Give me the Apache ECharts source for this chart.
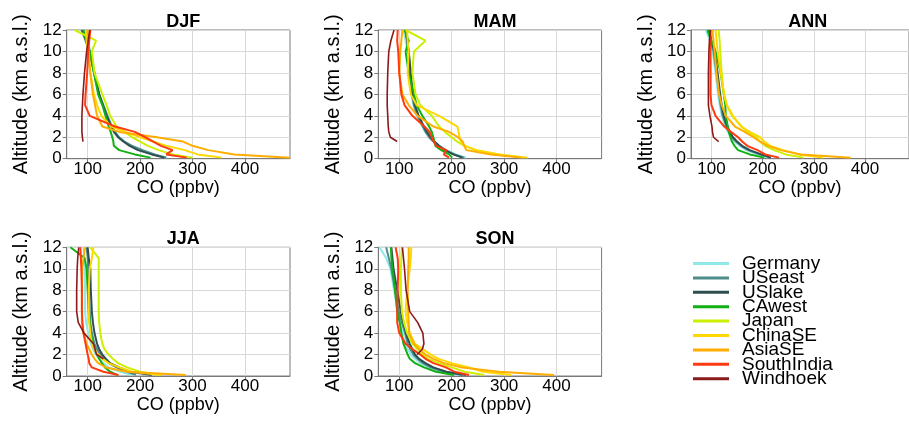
<!DOCTYPE html>
<html>
<head>
<meta charset="utf-8">
<script src="https://cdn.jsdelivr.net/npm/echarts@6/dist/echarts.min.js"></script>
<style>
html,body{margin:0;padding:0;background:#fff;}
#chart{width:909px;height:422px;}
</style>
</head>
<body>
<div id="chart"></div>
<script>
// ---------- data ----------
const stations = ['Germany','USeast','USlake','CAwest','Japan','ChinaSE','AsiaSE','SouthIndia','Windhoek'];
const panels = ['DJF','MAM','ANN','JJA','SON'];
const altLevels = [0.1,0.4,0.8,1.2,1.6,2,2.5,3,4,5,6,8,10,11,12]; // km a.s.l.
const xTicks = [100,200,300,400];

// DJF CO (ppbv) at altLevels
const djfGermany    = [251,225,200,183,170,160,152,146,137,128,121,112,105,100,92];
const djfUSeast     = [250,228,205,185,170,160,152,146,138,130,122,112,103,96,88];
const djfUSlake     = [246,222,196,180,168,158,150,145,136,129,122,113,104,97,90];
const djfCAwest     = [220,190,160,150,149,147,144,140,134,128,120,112,104,97,92];
const djfJapan      = [300,262,235,215,200,185,170,155,143,136,128,113,108,116,75];
const djfChinaSE    = [356,310,285,250,225,200,172,145,126,118,112,105,100,98,97];
const djfAsiaSE     = [486,380,330,300,282,232,160,128,118,114,110,105,102,100,100];
const djfSouthIndia = [289,250,262,240,225,210,190,152,104,95,96,99,101,103,105];
const djfWindhoek   = [null,null,null,null,91,90,89,89,89,90,91,94,98,101,104];

// MAM
const mamGermany    = [227,208,190,176,165,157,150,144,133,127,123,120,117,112,108];
const mamUSeast     = [224,205,188,175,165,157,150,145,135,128,124,121,118,115,112];
const mamUSlake     = [220,203,187,176,167,160,153,147,137,130,126,122,118,115,112];
const mamCAwest     = [201,195,180,169,167,165,162,157,144,133,128,118,112,118,110];
const mamJapan      = [338,290,245,225,210,200,187,176,162,140,131,125,128,150,112];
const mamChinaSE    = [345,290,248,225,218,215,213,211,176,133,122,116,118,116,115];
const mamAsiaSE     = [332,275,228,224,221,212,195,165,135,118,106,100,102,104,106];
const mamSouthIndia = [195,185,190,170,166,162,158,148,125,110,104,100,98,96,97];
const mamWindhoek   = [null,null,null,null,96,83,80,79,78,77,77,78,80,84,90];

// ANN
const annGermany    = [210,190,168,155,145,138,132,127,120,116,113,108,102,97,89];
const annUSeast     = [216,195,172,158,148,140,134,129,122,118,115,110,104,99,93];
const annUSlake     = [216,197,175,160,150,142,136,131,124,120,117,112,106,100,95];
const annCAwest     = [203,175,152,145,140,137,134,132,128,127,124,118,108,100,92];
const annJapan      = [280,245,222,205,195,187,170,159,140,130,124,120,117,116,114];
const annChinaSE    = [318,270,240,215,203,195,175,158,142,130,125,118,112,110,108];
const annAsiaSE     = [372,275,235,210,195,182,165,146,128,120,115,110,106,104,102];
const annSouthIndia = [232,205,190,170,160,152,138,125,108,100,98,98,98,98,98];
const annWindhoek   = [null,null,null,null,114,104,102,101,97,94,94,94,95,96,98];

// JJA
const jjaGermany    = [185,162,140,130,122,116,110,106,101,97,95,95,95,94,92];
const jjaUSeast     = [192,175,155,140,131,124,118,113,108,105,104,102,101,100,98];
const jjaUSlake     = [222,181,160,143,135,128,122,118,113,110,108,106,105,102,100];
const jjaCAwest     = [156,143,133,127,122,118,113,110,106,104,102,100,98,94,67];
const jjaJapan      = [238,200,175,158,148,140,132,128,124,122,121,121,121,121,105];
const jjaChinaSE    = [241,185,160,140,128,120,112,108,105,103,102,102,104,108,111];
const jjaAsiaSE     = [287,175,135,120,113,108,103,98,92,89,89,89,90,92,95];
const jjaSouthIndia = [159,130,108,103,102,100,98,96,92,90,89,89,88,87,86];
const jjaWindhoek   = [null,null,null,null,130,117,114,111,93,82,79,79,80,81,83];

// SON
const sonGermany    = [214,180,155,140,130,122,116,111,106,101,97,90,83,75,62];
const sonUSeast     = [220,185,160,145,135,127,121,116,111,105,99,92,85,80,75];
const sonUSlake     = [227,190,165,150,138,130,125,120,113,108,103,96,89,87,85];
const sonCAwest     = [204,170,147,130,120,116,112,108,104,101,96,92,87,85,84];
const sonJapan      = [262,225,200,175,155,145,135,125,115,109,105,103,103,104,105];
const sonChinaSE    = [313,260,233,200,175,160,145,130,120,115,112,115,120,122,123];
const sonAsiaSE     = [395,290,220,185,165,150,138,128,119,118,117,116,117,118,118];
const sonSouthIndia = [233,205,189,165,150,140,125,112,100,96,96,97,98,97,93];
const sonWindhoek   = [null,null,null,null,null,134,144,147,145,135,120,113,110,108,106];

const panelData = {
  DJF: [djfGermany,djfUSeast,djfUSlake,djfCAwest,djfJapan,djfChinaSE,djfAsiaSE,djfSouthIndia,djfWindhoek],
  MAM: [mamGermany,mamUSeast,mamUSlake,mamCAwest,mamJapan,mamChinaSE,mamAsiaSE,mamSouthIndia,mamWindhoek],
  ANN: [annGermany,annUSeast,annUSlake,annCAwest,annJapan,annChinaSE,annAsiaSE,annSouthIndia,annWindhoek],
  JJA: [jjaGermany,jjaUSeast,jjaUSlake,jjaCAwest,jjaJapan,jjaChinaSE,jjaAsiaSE,jjaSouthIndia,jjaWindhoek],
  SON: [sonGermany,sonUSeast,sonUSlake,sonCAwest,sonJapan,sonChinaSE,sonAsiaSE,sonSouthIndia,sonWindhoek]
};

// ---------- style / layout ----------
const colors = ['#8ee8e8','#4f8c8c','#2f4f4f','#12b012','#ccf000','#ffd800','#ffad00','#ff3a10','#8b1a1a'];
const widths = [2,2,2,2,2,2,2,2,1.6];
const FONT = '"Liberation Sans", Arial, sans-serif';
const gridPos = {
  DJF: {left: 66.7, top: 30},
  MAM: {left: 378.3, top: 30},
  ANN: {left: 691, top: 30},
  JJA: {left: 66.7, top: 247.3},
  SON: {left: 378.3, top: 247.3}
};
const GW = 223.3, GH = 128.7;
const frame = '#7a7a7a';

const grids = [], xAxes = [], yAxes = [], titles = [], series = [];
panels.forEach((p, i) => {
  const g = gridPos[p];
  grids.push({left: g.left, top: g.top, width: GW, height: GH, show: true, borderColor: frame, borderWidth: 1, backgroundColor: 'transparent'});
  titles.push({text: p, left: g.left + GW / 2, top: g.top - 22, textAlign: 'center',
    textStyle: {fontFamily: FONT, fontSize: 18, fontWeight: 'bold', color: '#000'}});
  xAxes.push({
    type: 'value', gridIndex: i, min: 60, max: 486,
    name: 'CO (ppbv)', nameLocation: 'middle', nameGap: 14,
    nameTextStyle: {fontFamily: FONT, fontSize: 18, color: '#000'},
    axisLine: {show: true, lineStyle: {color: frame, width: 1}},
    axisTick: {show: true, customValues: xTicks, length: 4, lineStyle: {color: frame}},
    axisLabel: {customValues: xTicks, fontFamily: FONT, fontSize: 17, color: '#000', margin: 2},
    splitLine: {show: true, lineStyle: {color: '#d9d9d9', width: 1}}
  });
  yAxes.push({
    type: 'value', gridIndex: i, min: 0, max: 12, interval: 2,
    name: 'Altitude (km a.s.l.)', nameLocation: 'middle', nameGap: 35,
    nameTextStyle: {fontFamily: FONT, fontSize: 20, color: '#000'},
    axisLine: {show: true, lineStyle: {color: frame, width: 1}},
    axisTick: {show: true, length: 4, lineStyle: {color: frame}},
    axisLabel: {fontFamily: FONT, fontSize: 17, color: '#000', margin: 5},
    splitLine: {show: true, lineStyle: {color: '#d9d9d9', width: 1}}
  });
  panelData[p].forEach((vals, s) => {
    const pts = [];
    vals.forEach((v, k) => { if (v !== null) pts.push([v, altLevels[k]]); });
    series.push({
      name: stations[s], type: 'line', xAxisIndex: i, yAxisIndex: i,
      data: pts, symbol: 'none', smooth: false, silent: true,
      lineStyle: {color: colors[s], width: widths[s]},
      itemStyle: {color: colors[s]},
      clip: true, animation: false
    });
  });
});

const chart = echarts.init(document.getElementById('chart'), null, {renderer: 'canvas'});
chart.setOption({
  animation: false,
  backgroundColor: '#fff',
  title: titles,
  grid: grids,
  xAxis: xAxes,
  yAxis: yAxes,
  legend: {
    orient: 'vertical', left: 688, top: 249, height: 168,
    data: stations,
    itemWidth: 36, itemHeight: 3, itemGap: -4.6,
    icon: 'rect',
    selectedMode: false,
    textStyle: {fontFamily: FONT, fontSize: 19, color: '#000', padding: [0,0,0,8]}
  },
  series: series
});
</script>
</body>
</html>
